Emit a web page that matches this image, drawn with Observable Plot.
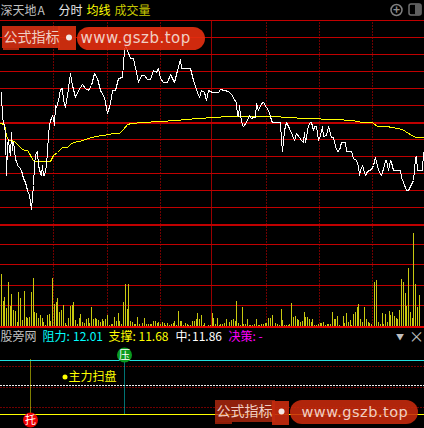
<!DOCTYPE html>
<html><head><meta charset="utf-8">
<script src="https://cdn.jsdelivr.net/npm/d3@7"></script>
<script src="https://cdn.jsdelivr.net/npm/@observablehq/plot@0.6"></script>
<style>html,body{margin:0;padding:0;background:#000;overflow:hidden}svg{display:block}</style>
</head><body><div id="c"></div>
<script>
// Scale units equal picture rows and columns: the panel uses a shared frame of 424 x 428.
const priceLine = [[1,92],[2,118],[4,125],[5,134],[6,175],[7,145],[8,139],[9,150],[10,155],[11,132],[12,150],[13,142],[14,148],[15,160],[16,160],[17,165],[19,167],[21,170],[23,178],[25,182],[27,190],[29,195],[31,209],[33,185],[34,165],[35,155],[36,152],[37,151],[38,165],[40,173],[41,175],[42,165],[43,175],[44,175],[45,170],[46,165],[47,150],[48,135],[49,125],[50,120],[51,118],[52,115],[53,118],[54,125],[55,105],[56,107],[58,100],[60,89],[62,88],[63,100],[65,107],[67,95],[70,73],[72,85],[75,97],[78,90],[82,84],[85,88],[88,90],[91,85],[94,73],[97,78],[100,90],[104,97],[107,113],[110,103],[112,90],[115,90],[118,78],[122,77],[124,50],[125,45],[127,50],[130,58],[133,58],[136,72],[138,82],[141,75],[144,75],[147,79],[150,79],[153,70],[156,72],[158,68],[160,78],[163,82],[167,82],[170,74],[174,82],[177,70],[180,59],[181,68],[190,68],[193,80],[197,92],[199,97],[201,90],[204,92],[206,100],[208,90],[212,92],[218,92],[220,89],[224,90],[228,91],[232,95],[234,100],[235,100],[236,103],[237,115],[238,116],[239,105],[240,115],[242,125],[243,126],[246,122],[249,115],[251,118],[253,117],[255,117],[256,103],[258,110],[261,103],[263,102],[266,107],[268,110],[270,116],[271,120],[272,122],[280,122],[281,140],[282,151],[284,130],[286,122],[289,128],[292,135],[294,140],[296,133],[299,137],[301,140],[303,142],[304,132],[305,142],[308,125],[310,122],[311,122],[313,130],[314,126],[316,126],[318,140],[320,135],[322,126],[323,136],[326,135],[328,126],[331,137],[333,137],[335,146],[337,151],[339,150],[341,142],[345,142],[346,151],[351,151],[353,158],[356,160],[358,166],[359,175],[360,170],[362,165],[365,175],[367,171],[371,169],[373,165],[375,157],[378,170],[381,175],[384,165],[385,160],[386,160],[388,170],[390,160],[391,162],[393,170],[400,170],[401,177],[403,182],[406,190],[408,190],[410,186],[413,180],[414,170],[415,157],[416,156],[417,170],[422,170],[423,152]];
const avgLine = [[0,123],[4,124],[6,135],[8,140],[10,140],[14,141],[18,145],[21,148],[24,150],[27,150],[29,153],[31,157],[33,160],[34,161],[50,161],[53,155],[57,152],[60,149],[62,147],[67,147],[70,144],[73,142],[79,141],[85,139],[88,138],[95,136],[103,135],[113,133],[119,133],[123,129],[127,124],[131,123],[143,122],[158,121],[177,120],[184,119],[200,118],[212,117],[230,116],[280,116.5],[305,118],[335,119],[352,120],[362,122],[372,122],[376,125.5],[389,126.5],[402,129],[408,133],[415,137],[424,137]];
// volume: [x, top row]
const volLeft = [[4,162],[10,243],[13,231],[19,263],[25,186],[31,258],[34,222],[40,270],[46,273],[52,306],[55,216],[61,234],[67,300],[73,213],[79,291],[82,293],[88,291],[94,216],[100,174],[103,276],[109,279],[115,294],[121,285],[127,294],[130,306],[136,315],[142,285],[148,282],[151,303],[157,174],[163,252],[169,246],[172,234],[178,276],[184,270],[190,255],[196,309],[199,315],[205,294],[211,258],[217,255],[220,246],[226,300],[232,312],[238,294],[241,282],[247,306],[253,309],[259,297],[265,294],[268,309],[274,261],[280,297],[286,294],[289,297],[295,300],[301,306],[307,297],[310,303],[316,297],[322,285],[328,315],[334,312],[337,312],[343,291],[349,303],[355,279],[358,303],[364,312],[370,246],[376,192],[382,267],[385,192],[391,303],[397,306],[403,312],[406,312],[412,291],[418,312],[427,309],[433,294],[439,312],[445,312],[451,312],[454,312],[460,303],[466,303],[472,309],[475,306],[481,312],[487,306],[493,309],[496,315],[502,309],[508,315],[514,312],[520,309],[523,303],[529,315],[535,273],[541,303],[544,303],[550,315],[556,309],[562,312],[565,315],[571,315],[577,303],[583,303],[589,297],[592,279],[598,297],[604,285],[610,315],[613,309],[625,315],[631,315]];
const volRight = [[1,279],[4,294],[10,312],[16,294],[22,315],[25,312],[31,312],[37,309],[43,297],[52,306],[58,300],[64,297],[70,303],[73,243],[79,309],[85,315],[91,261],[94,312],[100,312],[106,297],[112,315],[115,315],[121,315],[127,312],[133,297],[139,315],[142,315],[148,312],[154,312],[160,309],[163,309],[169,294],[175,294],[181,285],[190,309],[196,312],[202,315],[208,267],[211,300],[217,315],[223,315],[229,315],[232,312],[238,249],[244,291],[250,288],[256,297],[259,300],[265,306],[271,303],[277,276],[280,291],[286,291],[292,297],[298,306],[301,297],[307,315],[313,315],[319,312],[325,309],[328,309],[334,306],[340,315],[346,312],[349,312],[355,312],[361,276],[367,297],[370,297],[376,288],[382,315],[394,288],[397,309],[403,279],[409,306],[415,300],[418,315],[424,282],[430,276],[436,261],[439,252],[445,297],[451,306],[457,261],[463,297],[469,306],[472,309],[478,312],[487,186],[493,180],[499,306],[505,312],[511,279],[514,312],[520,282],[526,306],[532,273],[535,285],[541,276],[547,288],[553,294],[556,297],[562,270],[568,177],[574,186],[580,219],[583,258],[589,144],[595,276],[601,294],[604,39],[610,192],[616,261],[622,225]];
const volBase = 326;
const volumes = [...volLeft.map(([x,t])=>({x:Math.floor(x/3),top:220+t/3})),...volRight.map(([x,t])=>({x:212+Math.floor(x/3),top:220+t/3}))];
const gridRows = [20,37,54,71,88,105,139,156,173,190,207,244,264,285,305];
const thickRows = [122.5,224.5];
const baseRow = [326.5];
const dottedCols = [53,107,160,266,319,372];
const centreCol = [211];
const indicatorDots = [366,387,407];
const whiteDotRow = [385];
const resistRow = [360];
const supportRow = [414];
const yellowMarkCol = [30];
const cyanMarkCol = [124];

const headerLabels = [
 {x:0,y:10.5,t:"深天地",f:"#c0c0c0",s:12},{x:37,y:10.5,t:"A",f:"#c0c0c0",s:12},
 {x:58,y:10.5,t:"分时",f:"#e8e8e8",s:12},{x:86,y:10.5,t:"均线",f:"#ffff00",s:12},{x:114,y:10.5,t:"成交量",f:"#c8c800",s:12}
];
const panelLabels = [
 {x:0,y:336.5,t:"股旁网",f:"#c0c0c0",s:12},
 {x:42,y:336.5,t:"阻力:",f:"#00ffff",s:12},{x:72.5,y:336.5,t:"12.01",f:"#00ffff",s:12},
 {x:108,y:336.5,t:"支撑:",f:"#ffff00",s:12},{x:138,y:336.5,t:"11.68",f:"#ffff00",s:12},
 {x:175,y:336.5,t:"中:",f:"#ffffff",s:12},{x:191.5,y:336.5,t:"11.86",f:"#ffffff",s:12},
 {x:228,y:336.5,t:"决策:",f:"#ff00ff",s:12},{x:258,y:336.5,t:"-",f:"#ff00ff",s:12},
 {x:68,y:376.5,t:"主力扫盘",f:"#ffff00",s:12}
];
const yellowDot = [{x:64.5,y:376.5}];
const badges = [{x:124,y:354.5,f:"#0a9a1e",t:"压"},{x:30,y:419.5,f:"#ee0000",t:"托"}];

const flags = [
 {x1:2,x2:60,y1:26,y2:48,f:"#dc3012",o:0.88},{x1:58,x2:76,y1:26,y2:50,f:"#d8300f",o:0.92},{x1:3,x2:19,y1:47,y2:50,f:"#c22a0d",o:0.9},
 {x1:215,x2:275,y1:400,y2:422,f:"#b82a10",o:0.78},{x1:272,x2:289,y1:401,y2:425,f:"#c42a0e",o:0.92},{x1:215,x2:232,y1:421,y2:424,f:"#9a2009",o:0.9}
];
const pills = [
 {x1:77,x2:205,y1:27,y2:50,f:"#e62f0f",o:0.9},
 {x1:290,x2:418,y1:400,y2:424,f:"#c82a0c",o:0.88}
];
const bannerText = [
 {x:3,y:37.5,t:"公式指标",s:14},{x:80,y:37.5,t:"www.gszb.top",s:15},
 {x:216,y:411.5,t:"公式指标",s:14},{x:301,y:411.5,t:"www.gszb.top",s:14.5}
];
const bannerDots = [{x:68.5,y:37},{x:281,y:411}];
const iconRing = [{x:396,y:9.5}];
const iconPlus = [{x:396,y:9.5,t:"+"}];
const iconFrame = [{x1:409,x2:421,y1:4,y2:15}];
const iconFill = [{x1:415,x2:421,y1:4,y2:15}];
const closeGlyphs = [{x:399.5,y:336.5,t:"▼",s:8},{x:416,y:336.5,t:"×",s:15}];

const font = "'Noto Sans CJK SC','Noto Sans',sans-serif";
const crisp = {shapeRendering:"crispEdges"};
const pts = a => a.map(([x,y])=>({x,y}));

const chart = Plot.plot({
 width:424,height:428,margin:0,
 x:{domain:[0,424],range:[0,424],axis:null},
 y:{domain:[0,428],range:[0,428],axis:null},
 style:{background:"#000",fontFamily:font},
 marks:[
  Plot.ruleX(dottedCols,{x:d=>d,y1:22.5,y2:326,stroke:"#e00000",strokeWidth:1,strokeDasharray:"1 2"}),
  Plot.ruleX(centreCol,{x:d=>d,y1:20,y2:326,stroke:"#980000",strokeWidth:1,...crisp}),
  Plot.ruleY(gridRows,{y:d=>d,stroke:"#c00000",strokeWidth:1,...crisp}),
  Plot.ruleY(thickRows,{y:d=>d,stroke:"#c00000",strokeWidth:2,...crisp}),
  Plot.ruleX(volumes,{x:"x",y1:volBase,y2:"top",stroke:"#c8c810",strokeWidth:1,...crisp}),
  Plot.ruleY(baseRow,{y:d=>d,stroke:"#e00000",strokeWidth:2,...crisp}),
  Plot.line(pts(avgLine),{x:"x",y:"y",stroke:"#ffff00",strokeWidth:1,...crisp}),
  Plot.line(pts(priceLine),{x:"x",y:"y",stroke:"#ffffff",strokeWidth:1,...crisp}),

  Plot.ruleY(indicatorDots,{y:d=>d,x1:0.5,x2:424,stroke:"#e00000",strokeWidth:1,strokeDasharray:"1 2"}),
  Plot.ruleY(whiteDotRow,{y:d=>d,stroke:"#f0f0f0",strokeWidth:1,strokeDasharray:"2 1",...crisp}),
  Plot.ruleX(yellowMarkCol,{x:d=>d,y1:359.5,y2:414,stroke:"#ffff00",strokeWidth:1,strokeDasharray:"1 1"}),
  Plot.ruleX(cyanMarkCol,{x:d=>d,y1:359.5,y2:414,stroke:"#00e8e8",strokeWidth:1,strokeDasharray:"1 1"}),
  Plot.ruleY(resistRow,{y:d=>d,stroke:"#20e0e0",strokeWidth:1,...crisp}),
  Plot.ruleY(supportRow,{y:d=>d,stroke:"#ffff00",strokeWidth:1,...crisp}),
  ...badges.map(d=>Plot.dot([d],{x:"x",y:"y",r:7.5,fill:d.f})),
  Plot.text(badges,{x:"x",y:"y",text:"t",fill:"#ffffff",fontSize:11}),
  Plot.dot(yellowDot,{x:"x",y:"y",r:2.5,fill:"#ffff00"}),

  ...headerLabels.concat(panelLabels).map(d=>Plot.text([d],{x:"x",y:"y",text:"t",fill:d.f,fontSize:d.s,textAnchor:"start"})),
  Plot.dot(iconRing,{x:"x",y:"y",r:5.5,stroke:"#808080",strokeWidth:1.5,fill:"none"}),
  Plot.text(iconPlus,{x:"x",y:"y",text:"t",fill:"#909090",fontSize:12,fontWeight:"bold"}),
  Plot.rect(iconFrame,{x1:"x1",x2:"x2",y1:"y1",y2:"y2",stroke:"#707070",strokeWidth:1.5,fill:"none",rx:2}),
  Plot.rect(iconFill,{x1:"x1",x2:"x2",y1:"y1",y2:"y2",fill:"#606060",rx:1}),
  ...closeGlyphs.map(d=>Plot.text([d],{x:"x",y:"y",text:"t",fill:"#c0c0c0",fontSize:d.s})),

  ...flags.map(d=>Plot.rect([d],{x1:"x1",x2:"x2",y1:"y1",y2:"y2",fill:d.f,fillOpacity:d.o})),
  ...pills.map(d=>Plot.rect([d],{x1:"x1",x2:"x2",y1:"y1",y2:"y2",fill:d.f,fillOpacity:d.o,rx:12})),
  Plot.dot(bannerDots,{x:"x",y:"y",r:3,fill:"#f2e8e4"}),
  ...bannerText.map(d=>Plot.text([d],{x:"x",y:"y",text:"t",fill:"#f0cfc4",fontSize:d.s,textAnchor:"start",
     fontFamily:d.t.startsWith("www")?"'DejaVu Sans',sans-serif":font}))
 ]
});
chart.querySelectorAll("text").forEach(t=>{ if(t.textContent.startsWith("www")) t.style.letterSpacing = (t.getAttribute("font-size")=="15"?"1.4px":"0.5px"); });
document.getElementById("c").appendChild(chart);
</script></body></html>
